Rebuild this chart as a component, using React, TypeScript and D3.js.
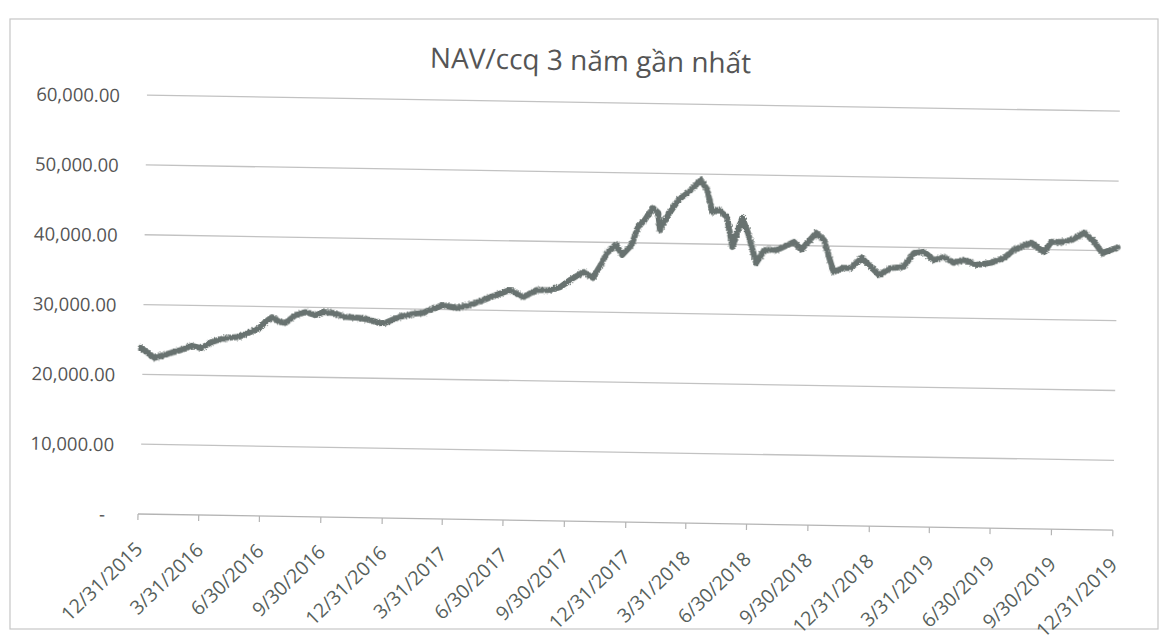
import React, { useEffect, useRef } from 'react'
import * as d3 from 'd3'

// NAV per fund certificate
const navDates = [
  '2015-12-31', '2016-01-21', '2016-02-05', '2016-03-01', '2016-03-16', '2016-03-31',
  '2016-04-15', '2016-05-05', '2016-05-26', '2016-06-25', '2016-07-04', '2016-07-14',
  '2016-07-25', '2016-08-03', '2016-08-18', '2016-09-02', '2016-09-17', '2016-09-28',
  '2016-10-13', '2016-11-01', '2016-11-22', '2016-12-07', '2016-12-22', '2016-12-31',
  '2017-01-21', '2017-02-10', '2017-02-25', '2017-03-27', '2017-04-15', '2017-05-06',
  '2017-05-26', '2017-06-14', '2017-07-05', '2017-07-25', '2017-08-13', '2017-09-03',
  '2017-09-18', '2017-10-03', '2017-10-22', '2017-11-06', '2017-11-17', '2017-11-26',
  '2017-12-10', '2017-12-19', '2018-01-02', '2018-01-11', '2018-01-21', '2018-02-02',
  '2018-02-10', '2018-02-13', '2018-02-25', '2018-03-12', '2018-03-27', '2018-04-14',
  '2018-04-24', '2018-05-02', '2018-05-11', '2018-05-24', '2018-06-02', '2018-06-16',
  '2018-06-25', '2018-07-08', '2018-07-20', '2018-08-08', '2018-09-02', '2018-09-13',
  '2018-10-05', '2018-10-17', '2018-11-01', '2018-11-16', '2018-11-27', '2018-12-13',
  '2018-12-27', '2019-01-08', '2019-01-26', '2019-02-14', '2019-03-01', '2019-03-16',
  '2019-03-31', '2019-04-15', '2019-04-30', '2019-05-15', '2019-06-04', '2019-06-25',
  '2019-07-14', '2019-07-29', '2019-08-24', '2019-09-12', '2019-09-23', '2019-10-08',
  '2019-10-23', '2019-11-11', '2019-11-26', '2019-12-08', '2019-12-22', '2019-12-31',
]
const navValues = [
  23800, 22400, 22850, 23600, 24200, 23900,
  24800, 25400, 25600, 26900, 27800, 28500,
  27850, 27700, 28850, 29300, 28900, 29350,
  29250, 28700, 28600, 28350, 27900, 27950,
  28850, 29300, 29450, 30650, 30250, 30700,
  31450, 32200, 32950, 32000, 33000, 33050,
  33500, 34550, 35700, 34900, 36750, 38500,
  39650, 38250, 39700, 42300, 43300, 45050,
  44350, 41900, 44100, 46250, 47400, 49150,
  47750, 44600, 44900, 43950, 39650, 43850,
  41700, 37400, 39300, 39350, 40500, 39400,
  41850, 40850, 36300, 36900, 36900, 38400,
  37100, 36000, 37000, 37200, 39200, 39400,
  38250, 38700, 37900, 38350, 37650, 38000,
  38700, 39900, 40950, 39650, 41150, 41150,
  41450, 42500, 41250, 39650, 40150, 40500,
]
const yTicks = [0, 10000, 20000, 30000, 40000, 50000, 60000]
const xTickDates = [
  '2015-12-31', '2016-03-31', '2016-06-30', '2016-09-30', '2016-12-31',
  '2017-03-31', '2017-06-30', '2017-09-30', '2017-12-31', '2018-03-31',
  '2018-06-30', '2018-09-30', '2018-12-31', '2019-03-31', '2019-06-30',
  '2019-09-30', '2019-12-31',
]
const title = 'NAV/ccq 3 năm gần nhất'

const W = 1165
const H = 643
const left = 138
const right = 1113
const bottom = 514
const top = 95
const tilt = 0.95 // the scan is slightly rotated

export default function App() {
  const svgRef = useRef(null)

  useEffect(() => {
    const svg = d3.select(svgRef.current)
    svg.selectAll('*').remove()

    const parse = d3.utcParse('%Y-%m-%d')
    const data = navDates.map((d, i) => ({ date: parse(d), value: navValues[i] }))

    const x = d3.scaleUtc()
      .domain([parse('2015-12-31'), parse('2019-12-31')])
      .range([left, right])
    const y = d3.scaleLinear().domain([0, 60000]).range([bottom, top])

    // rough edge for the scanned-looking line
    const defs = svg.append('defs')
    const flt = defs.append('filter').attr('id', 'rough')
      .attr('x', '-5%').attr('y', '-5%').attr('width', '110%').attr('height', '110%')
    flt.append('feTurbulence')
      .attr('type', 'fractalNoise').attr('baseFrequency', 0.7)
      .attr('numOctaves', 2).attr('seed', 3).attr('result', 'noise')
    flt.append('feDisplacementMap')
      .attr('in', 'SourceGraphic').attr('in2', 'noise')
      .attr('scale', 3.5).attr('xChannelSelector', 'R').attr('yChannelSelector', 'G')

    svg.append('rect').attr('width', W).attr('height', H).attr('fill', '#fff')

    // outer chart border
    svg.append('rect')
      .attr('x', 10).attr('y', 19).attr('width', 1148).attr('height', 610)
      .attr('fill', 'none').attr('stroke', '#c6c6c6').attr('stroke-width', 1.2)

    const g = svg.append('g').attr('transform', `rotate(${tilt},${left},${bottom})`)

    g.append('text')
      .attr('x', 583).attr('y', 52)
      .attr('text-anchor', 'middle')
      .attr('dominant-baseline', 'central')
      .style('font-family', "'Open Sans', sans-serif")
      .style('font-size', '28px')
      .attr('fill', '#555')
      .text(title)

    // gridlines
    g.append('g')
      .selectAll('line')
      .data(yTicks.filter(t => t > 0))
      .join('line')
      .attr('x1', left + 2).attr('x2', right)
      .attr('y1', d => y(d)).attr('y2', d => y(d))
      .attr('stroke', '#c2c2c2').attr('stroke-width', 1.3)

    // y labels
    const fmt = d3.format(',.2f')
    g.append('g')
      .selectAll('text')
      .data(yTicks)
      .join('text')
      .attr('x', d => d === 0 ? 102 : 113)
      .attr('y', d => y(d))
      .attr('text-anchor', d => d === 0 ? 'middle' : 'end')
      .attr('dominant-baseline', 'central')
      .style('font-family', "'Open Sans', sans-serif")
      .style('font-size', '18.5px')
      .attr('fill', '#555')
      .text(d => d === 0 ? '-' : fmt(d))

    // x axis
    g.append('line')
      .attr('x1', left).attr('x2', right)
      .attr('y1', bottom).attr('y2', bottom)
      .attr('stroke', '#b4b4b4').attr('stroke-width', 1.3)

    const ticks = xTickDates.map(d => parse(d))
    g.append('g')
      .selectAll('line')
      .data(ticks)
      .join('line')
      .attr('x1', d => x(d)).attr('x2', d => x(d))
      .attr('y1', bottom).attr('y2', bottom + 6)
      .attr('stroke', '#b4b4b4').attr('stroke-width', 1.2)

    const tf = d3.utcFormat('%-m/%-d/%Y')
    g.append('g')
      .selectAll('text')
      .data(ticks)
      .join('text')
      .attr('transform', d => `translate(${x(d) + 1},${bottom + 31}) rotate(-45)`)
      .attr('text-anchor', 'end')
      .attr('dominant-baseline', 'central')
      .style('font-family', "'Open Sans', sans-serif")
      .style('font-size', '19.5px')
      .attr('fill', '#56605b')
      .text(d => tf(d))

    const line = d3.line()
      .x(d => x(d.date))
      .y(d => y(d.value))

    g.append('path')
      .datum(data)
      .attr('d', line)
      .attr('fill', 'none')
      .attr('stroke', '#68726f')
      .attr('stroke-width', 6)
      .attr('stroke-linejoin', 'round')
      .attr('stroke-linecap', 'round')
      .attr('filter', 'url(#rough)')
  }, [])

  return (
    <svg ref={svgRef} width={W} height={H}
      style={{ position: 'absolute', left: 0, top: 0, display: 'block' }} />
  )
}
